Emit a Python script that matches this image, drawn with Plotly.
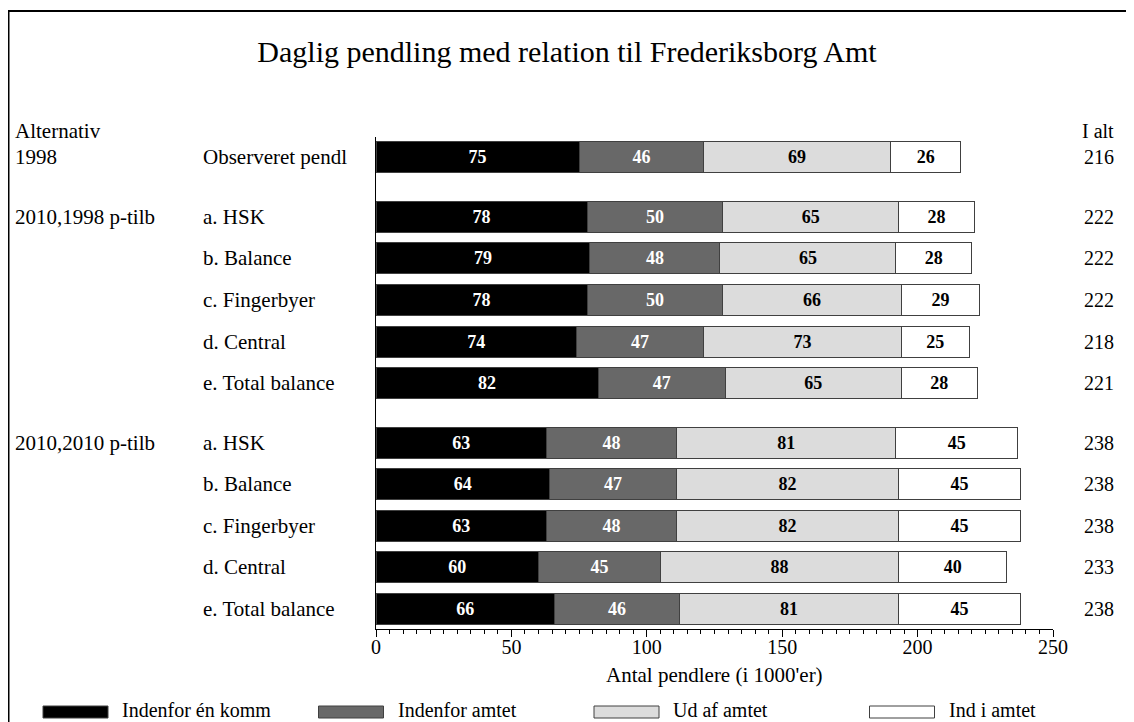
import plotly.graph_objects as go

# data
groups = ["1998", "2010,1998 p-tilb", "2010,2010 p-tilb"]
rows = ["Observeret pendl",
        "a. HSK", "b. Balance", "c. Fingerbyer", "d. Central", "e. Total balance",
        "a. HSK", "b. Balance", "c. Fingerbyer", "d. Central", "e. Total balance"]
rows_per_group = [1, 5, 5]

series = ["Indenfor én komm", "Indenfor amtet", "Ud af amtet", "Ind i amtet"]
indenfor_komm = [75, 78, 79, 78, 74, 82, 63, 64, 63, 60, 66]
indenfor_amt = [46, 50, 48, 50, 47, 47, 48, 47, 48, 45, 46]
ud_af_amt = [69, 65, 65, 66, 73, 65, 81, 82, 82, 88, 81]
ind_i_amt = [26, 28, 28, 29, 25, 28, 45, 45, 45, 40, 45]
i_alt = [216, 222, 222, 222, 218, 221, 238, 238, 238, 233, 238]

fills = ["#000000", "#686868", "#dcdcdc", "#ffffff"]
text_colors = ["white", "white", "black", "black"]
FONT = "Liberation Serif"

# row positions: one step per row, a bit of extra space between groups
GROUP_GAP = 0.43
ypos = []
pos = 0.0
for g, n in enumerate(rows_per_group):
    if g > 0:
        pos += GROUP_GAP
    for i in range(n):
        ypos.append(pos)
        pos += 1
group_start = [0, 1, 6]

# pixel layout (page body has an 8px margin, so the figure is a bit smaller
# and all screen positions below are shifted by OFF)
OFF = 8
W, H = 1134 - OFF, 722 - OFF
L, R, T, B = 376 - OFF, 89 - OFF, 137 - OFF, 101 - OFF
pw, ph = W - L - R, H - T - B


def px(x):
    return (x - OFF - L) / pw


def py(y):
    return (H - B - (y - OFF)) / ph


fig = go.Figure()
for name, vals, col, tc in zip(series, [indenfor_komm, indenfor_amt, ud_af_amt, ind_i_amt],
                               fills, text_colors):
    fig.add_trace(go.Bar(
        y=ypos, x=vals, orientation="h", name=name, width=0.746,
        marker=dict(color=col, line=dict(color="#404040", width=1)),
        text=[f"<b>{v}</b>" for v in vals], textposition="inside",
        insidetextanchor="middle", textangle=0, constraintext="none",
        textfont=dict(family=FONT, size=18, color=tc),
        showlegend=False, hoverinfo="skip",
    ))

ann = []
# row labels and totals
for y, lab, tot in zip(ypos, rows, i_alt):
    ann.append(dict(x=px(201), y=y, xref="paper", yref="y", text=lab, showarrow=False,
                    xanchor="left", yanchor="middle", font=dict(size=21)))
    ann.append(dict(x=px(1116), y=y, xref="paper", yref="y", text=str(tot), showarrow=False,
                    xanchor="right", yanchor="middle", font=dict(size=20)))
for g, s in zip(groups, group_start):
    ann.append(dict(x=px(13), y=ypos[s], xref="paper", yref="y", text=g, showarrow=False,
                    xanchor="left", yanchor="middle", font=dict(size=21)))
ann.append(dict(x=px(13), y=py(131), xref="paper", yref="paper", text="Alternativ",
                showarrow=False, xanchor="left", yanchor="middle", font=dict(size=21)))
ann.append(dict(x=px(1116), y=py(131), xref="paper", yref="paper", text="I alt",
                showarrow=False, xanchor="right", yanchor="middle", font=dict(size=20)))
ann.append(dict(x=0.5, y=py(675), xref="paper", yref="paper", text="Antal pendlere (i 1000'er)",
                showarrow=False, xanchor="center", yanchor="middle", font=dict(size=21)))

# legend drawn by hand: long flat swatches
shapes = []
for i, (name, col) in enumerate(zip(series, fills)):
    x0 = 43 + 275.5 * i
    shapes.append(dict(type="rect", xref="paper", yref="paper",
                       x0=px(x0), x1=px(x0 + 65), y0=py(718), y1=py(706),
                       fillcolor=col, line=dict(color="#404040", width=1)))
    ann.append(dict(x=px(x0 + 77), y=py(710), xref="paper", yref="paper", text=name,
                    showarrow=False, xanchor="left", yanchor="middle", font=dict(size=20)))

# frame (left and top edges visible in the crop)
shapes.append(dict(type="line", xref="paper", yref="paper", x0=px(8), x1=px(1140),
                   y0=py(11), y1=py(11), line=dict(color="black", width=2)))
shapes.append(dict(type="line", xref="paper", yref="paper", x0=px(8.5), x1=px(8.5),
                   y0=py(11), y1=py(730), line=dict(color="black", width=2)))

fig.update_layout(
    width=W, height=H, margin=dict(l=L, r=R, t=T, b=B),
    barmode="stack", plot_bgcolor="white", paper_bgcolor="white",
    font=dict(family=FONT, size=20, color="black"),
    title=dict(text="Daglig pendling med relation til Frederiksborg Amt",
               x=(567 - OFF) / W, xref="container", xanchor="center",
               y=1 - (51 - OFF) / H, yanchor="middle",
               font=dict(family=FONT, size=30, color="black")),
    xaxis=dict(range=[0, 250], dtick=50, showgrid=False, zeroline=False,
               showline=True, linecolor="black", linewidth=1,
               ticks="outside", ticklen=7, tickcolor="black",
               minor=dict(dtick=5, ticks="outside", ticklen=4, tickcolor="black"),
               tickfont=dict(size=20), ticklabelstandoff=-7),
    yaxis=dict(range=[ypos[-1] + 0.48, -0.49], showgrid=False, zeroline=False,
               showline=True, linecolor="black", linewidth=1, showticklabels=False),
    annotations=ann, shapes=shapes,
)

fig.write_html("out.html")
